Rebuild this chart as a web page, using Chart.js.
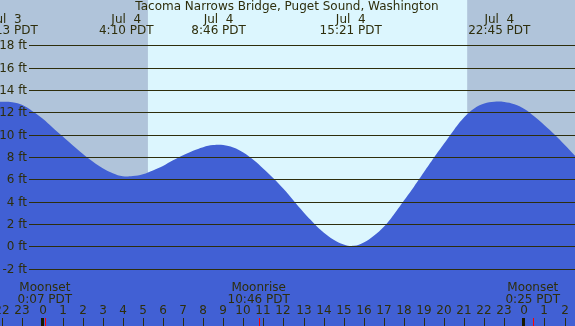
<!DOCTYPE html>
<html>
<head>
<meta charset="utf-8">
<script src="https://cdn.jsdelivr.net/npm/chart.js@4"></script>
<style>
  html, body { margin: 0; padding: 0; background: #ffffff; }
  #wrap { width: 575px; height: 326px; }
</style>
</head>
<body>
<div id="wrap"><canvas id="chart" width="575" height="326"></canvas></div>
<script>
// hours relative to midnight Jul 4 (negative = Jul 3), every half hour
const hours = [-3, -2.5, -2, -1.5, -1, -0.5, 0, 0.5, 1, 1.5, 2, 2.5, 3, 3.5, 4, 4.5,
  5, 5.5, 6, 6.5, 7, 7.5, 8, 8.5, 9, 9.5, 10, 10.5, 11, 11.5, 12, 12.5, 13, 13.5,
  14, 14.5, 15, 15.5, 16, 16.5, 17, 17.5, 18, 18.5, 19, 19.5, 20, 20.5, 21, 21.5,
  22, 22.5, 23, 23.5, 24, 24.5, 25, 25.5, 26, 26.5, 27];
const heights = [12.75, 12.9, 12.95, 12.9, 12.65, 12.1, 11.45, 10.65, 9.85, 9.05,
  8.3, 7.6, 7.0, 6.55, 6.28, 6.3, 6.46, 6.8, 7.2, 7.7, 8.15, 8.55, 8.88, 9.07, 9.08,
  8.85, 8.4, 7.75, 6.95, 6.1, 5.15, 4.1, 3.05, 2.1, 1.25, 0.6, 0.18, 0.05, 0.35,
  0.95, 1.75, 2.85, 4.1, 5.35, 6.65, 7.95, 9.2, 10.45, 11.55, 12.35, 12.78, 12.95,
  12.93, 12.72, 12.3, 11.62, 10.85, 10.02, 9.1, 8.15, 7.2];

// high / low tide labels along the top
const tideTimes = [-1.78, 4.17, 8.77, 15.35, 22.75];
const tideDays = ["Jul  3", "Jul  4", "Jul  4", "Jul  4", "Jul  4"];
const tideLabels = ["22:13 PDT", "4:10 PDT", "8:46 PDT", "15:21 PDT", "22:45 PDT"];

// moon events along the bottom
const moonTimes = [0.117, 10.767, 24.417];
const moonNames = ["Moonset", "Moonrise", "Moonset"];
const moonLabels = ["0:07 PDT", "10:46 PDT", "0:25 PDT"];

// daylight (sunrise, sunset)
const sunrise = 5.25;
const sunset = 21.15;

const yTicks = [18, 16, 14, 12, 10, 8, 6, 4, 2, 0, -2];
const hourTicks = [-2, -1, 0, 1, 2, 3, 4, 5, 6, 7, 8, 9, 10, 11, 12, 13, 14, 15, 16,
  17, 18, 19, 20, 21, 22, 23, 24, 25, 26];

const FONT = "12px 'DejaVu Sans'";
const INK = "#2e2e0c";

const backdrop = {
  id: "backdrop",
  beforeDatasetsDraw(chart) {
    const ctx = chart.ctx;
    const x = chart.scales.x;
    const a = chart.chartArea;
    ctx.save();
    ctx.fillStyle = "#b0c4da";
    ctx.fillRect(a.left, a.top, a.right - a.left, a.bottom - a.top);
    const x1 = x.getPixelForValue(sunrise);
    const x2 = x.getPixelForValue(sunset);
    ctx.fillStyle = "#dcf6fe";
    ctx.fillRect(x1, a.top, x2 - x1, a.bottom - a.top);
    ctx.restore();
  }
};

const overlay = {
  id: "overlay",
  afterDatasetsDraw(chart) {
    const ctx = chart.ctx;
    const x = chart.scales.x;
    const y = chart.scales.y;
    const a = chart.chartArea;
    ctx.save();
    ctx.font = FONT;
    ctx.fillStyle = INK;
    ctx.strokeStyle = INK;
    ctx.lineWidth = 1;

    // grid lines + ft labels
    ctx.textAlign = "right";
    ctx.textBaseline = "middle";
    for (const v of yTicks) {
      const py = Math.round(y.getPixelForValue(v)) + 0.5;
      ctx.beginPath();
      ctx.moveTo(29, py);
      ctx.lineTo(a.right, py);
      ctx.stroke();
      ctx.fillText(v + " ft", 27, py);
    }

    // title
    ctx.textAlign = "center";
    ctx.fillText("Tacoma Narrows Bridge, Puget Sound, Washington", 287, 7);

    // tide extremes
    tideTimes.forEach((t, i) => {
      const px = x.getPixelForValue(t);
      ctx.fillText(tideDays[i], px, 20);
      ctx.fillText(tideLabels[i], px, 31);
    });

    // moon events
    moonTimes.forEach((t, i) => {
      const px = x.getPixelForValue(t);
      ctx.fillText(moonNames[i], px, 288);
      ctx.fillText(moonLabels[i], px, 300);
    });

    // hour labels and ticks
    for (const h of hourTicks) {
      const px = Math.round(x.getPixelForValue(h));
      ctx.fillText(String(((h % 24) + 24) % 24), px, 311);
      if (h % 24 === 0) {
        ctx.fillStyle = "#1a1a00";
        ctx.fillRect(px - 2, 318, 3, 8);
        ctx.fillStyle = INK;
      } else {
        ctx.fillRect(px, 318, 1, 8);
      }
    }

    // moon event markers
    ctx.fillStyle = "#ff0000";
    for (const t of moonTimes) {
      const px = Math.round(x.getPixelForValue(t));
      ctx.fillRect(px, 318, 1, 8);
    }
    ctx.restore();
  }
};

new Chart(document.getElementById("chart").getContext("2d"), {
  type: "line",
  data: {
    datasets: [{
      label: "Tide",
      data: hours.map((h, i) => ({ x: h, y: heights[i] })),
      borderWidth: 0,
      borderColor: "rgba(0,0,0,0)",
      backgroundColor: "#4160d4",
      fill: "start",
      pointRadius: 0,
      tension: 0.4
    }]
  },
  options: {
    responsive: false,
    animation: false,
    devicePixelRatio: 1,
    layout: { padding: 0 },
    plugins: { legend: { display: false }, tooltip: { enabled: false } },
    scales: {
      x: { type: "linear", min: -2.117, max: 26.52, display: false },
      y: { min: -7.12, max: 22.05, display: false }
    }
  },
  plugins: [backdrop, overlay]
});
</script>
</body>
</html>
